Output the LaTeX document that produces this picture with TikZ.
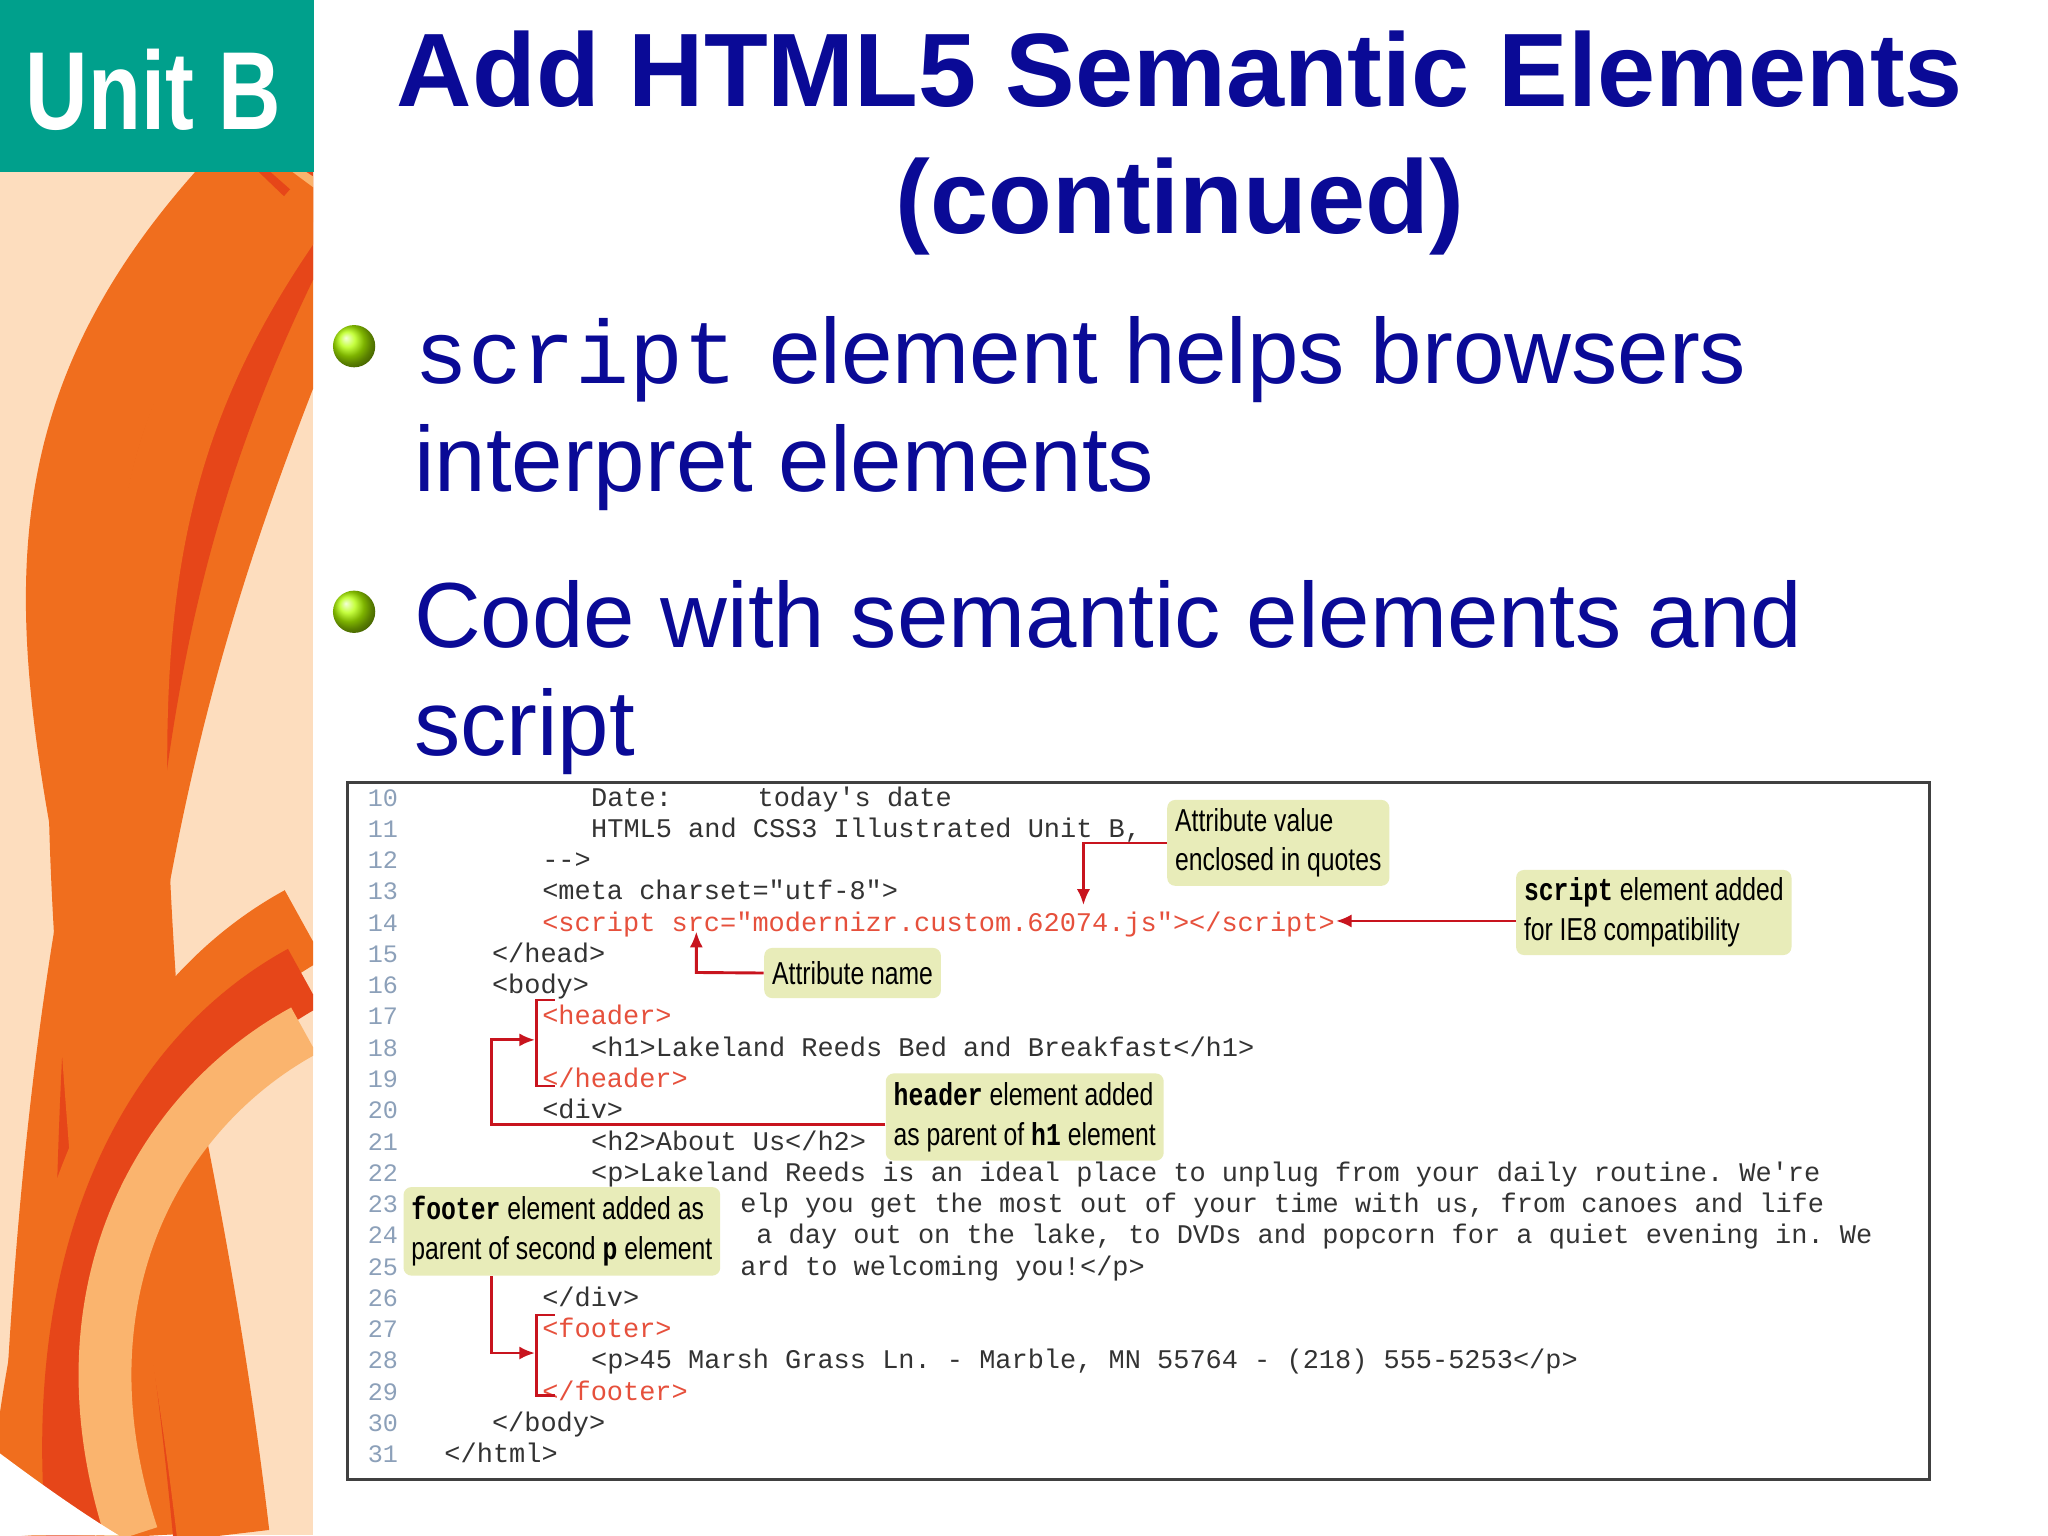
\documentclass[tikz,border=0pt]{standalone}
\usepackage{fontspec}
\setmainfont{Liberation Sans}
\setmonofont{Liberation Mono}
\newfontfamily\narrowfont[FakeStretch=0.78]{Liberation Sans}
\newfontfamily\narrowmono[FakeStretch=0.78]{Liberation Mono}
\definecolor{navy}{RGB}{10,10,150}
\definecolor{teal}{RGB}{0,160,140}
\definecolor{codered}{RGB}{230,80,60}
\definecolor{arrowred}{RGB}{200,20,30}
\definecolor{callout}{RGB}{232,236,185}
\definecolor{lineno}{RGB}{140,160,185}
\definecolor{oA}{RGB}{240,110,30}
\definecolor{oB}{RGB}{250,180,110}
\definecolor{oC}{RGB}{230,70,25}
\begin{document}
\begin{tikzpicture}[x=0.5pt,y=-0.5pt,
  code/.style={anchor=base west,inner sep=0pt,font=\fontsize{10.2}{12}\ttfamily,text=black!80},
  red code/.style={code,text=codered},
  num/.style={anchor=base west,inner sep=0pt,font=\fontsize{9.5}{11}\ttfamily,text=lineno},
  callbox/.style={fill=callout,rounded corners=3pt,inner sep=3pt,align=left,font=\fontsize{12}{15}\narrowfont,anchor=north west,minimum height=#1},
  conn/.style={draw=arrowred,line width=1.1pt},
  arr/.style={conn,-{Latex[length=6pt,width=5pt]}},
  bullet/.style={circle,minimum size=16pt,inner sep=0pt,ball color=yellow!70!green},
  btext/.style={anchor=base west,inner sep=0pt,font=\fontsize{35}{40}\selectfont,text=navy}]
\usetikzlibrary{arrows.meta}
\useasboundingbox (0,0) rectangle (1550,1162);
\fill[white] (0,0) rectangle (1550,1162);
% left swooshes
\begin{scope}
\clip (0,130) rectangle (237,1162);
\fill[oB!45] (0,130) rectangle (237,1162);
\foreach \c/\w/\s in {oA/40/0,oC/30/50,oB/25/95,oA/45/130,oC/20/185,oA/35/215}{
  \draw[\c,line width=\w] (260-\s*0.3,130) .. controls (150-\s,400) and (60+\s*0.2,600) .. (40+\s*0.6,1162);
}
\foreach \c/\w/\s in {oA/30/0,oC/25/40,oB/20/80}{
  \draw[\c,line width=\w] (230,700+\s) .. controls (120,760+\s) and (40,900+\s) .. (20+\s,1162);
}
\fill[white] (0,1100) .. controls (40,1130) and (70,1150) .. (90,1162) -- (0,1162) -- cycle;
\end{scope}
% Unit B
\fill[teal] (0,0) rectangle (238,130);
\node[text=white,font=\fontsize{42}{42}\bfseries\narrowfont] (unit) at (116,68) {Unit B};
% title
\node[text=navy,font=\fontsize{39.5}{48}\bfseries,align=center] (title) at (893,108) {Add HTML5 Semantic Elements\\(continued)};
% bullets
\node[bullet] (b1) at (268,262) {};
\node[bullet] (b2) at (268,463) {};
\node[btext] (t1a) at (313,290) {\ttfamily\fontsize{34}{40}\selectfont script};
\node[btext] (t1b) at (582,290) {element helps browsers};
\node[btext] (t1c) at (313,372) {interpret elements};
\node[btext] (t2a) at (313,490) {Code with semantic elements and};
\node[btext] (t2b) at (313,572) {script};
% code box
\fill[white] (263,592) rectangle (1460,1120);
\draw[black!75,line width=1.2pt] (263,592) rectangle (1460,1120);
\foreach \n [count=\i from 0] in {10,...,31}{
  \node[num] at (278,{610+\i*23.67}) {\n};
}
\def\L#1{{610+(#1-10)*23.67}}
\node[code] (l10) at (447,\L{10}) {Date:};
\node[code] (l10b) at (573,\L{10}) {today's date};
\node[code] (l11) at (447,\L{11}) {HTML5 and CSS3 Illustrated Unit B,};
\node[code] (l12) at (410,\L{12}) {-{}->};
\node[code] (l13) at (410,\L{13}) {<meta charset="utf-8">};
\node[red code] (l14) at (410,\L{14}) {<script src="modernizr.custom.62074.js"></script>};
\node[code] (l15) at (372,\L{15}) {</head>};
\node[code] (l16) at (372,\L{16}) {<body>};
\node[red code] (l17) at (410,\L{17}) {<header>};
\node[code] (l18) at (447,\L{18}) {<h1>Lakeland Reeds Bed and Breakfast</h1>};
\node[red code] (l19) at (410,\L{19}) {</header>};
\node[code] (l20) at (410,\L{20}) {<div>};
\node[code] (l21) at (447,\L{21}) {<h2>About Us</h2>};
\node[code] (l22) at (447,\L{22}) {<p>Lakeland Reeds is an ideal place to unplug from your daily routine. We're};
\node[code] (l23) at (560,\L{23}) {elp you get the most out of your time with us, from canoes and life};
\node[code] (l24) at (572,\L{24}) {a day out on the lake, to DVDs and popcorn for a quiet evening in. We};
\node[code] (l25) at (560,\L{25}) {ard to welcoming you!</p>};
\node[code] (l26) at (410,\L{26}) {</div>};
\node[red code] (l27) at (410,\L{27}) {<footer>};
\node[code] (l28) at (447,\L{28}) {<p>45 Marsh Grass Ln. - Marble, MN 55764 - (218) 555-5253</p>};
\node[red code] (l29) at (410,\L{29}) {</footer>};
\node[code] (l30) at (372,\L{30}) {</body>};
\node[code] (l31) at (336,\L{31}) {</html>};
% callouts
\node[callbox=65pt/2] (cv) at (883,605) {Attribute value\\enclosed in quotes};
\node[callbox=64pt/2] (cs) at (1147,658) {{\narrowmono\bfseries script} element added\\for IE8 compatibility};
\node[callbox=38pt/2] (cn) at (578,717) {Attribute name};
\node[callbox=66pt/2] (ch) at (670,812) {{\narrowmono\bfseries header} element added\\as parent of {\narrowmono\bfseries h1} element};
\node[callbox=67pt/2] (cf) at (305,898) {{\narrowmono\bfseries footer} element added as\\parent of second {\narrowmono\bfseries p} element};
% connectors
\coordinate (av) at (820,685);
\draw[arr] (cv.west |- 0,638) -- (820,638) -- (av);
\coordinate (sv) at (1011,697);
\draw[arr] (cs.west |- 0,697) -- (sv);
\coordinate (nv) at (527,705);
\draw[arr] (cn.west) -- (527,736) -- (nv);
\coordinate (hv) at (405,787);
\draw[arr] (ch.west |- 0,851) -- (372,851) -- (372,787) -- (hv);
\coordinate (fv) at (405,1024);
\draw[arr] (cf.south -| 372,0) -- (372,1024) -- (fv);
\draw[conn,line width=0.9pt] (420,757) -- (406,757) -- (406,822) -- (420,822);
\draw[conn,line width=0.9pt] (420,995) -- (406,995) -- (406,1056) -- (420,1056);
\end{tikzpicture}
\end{document}
